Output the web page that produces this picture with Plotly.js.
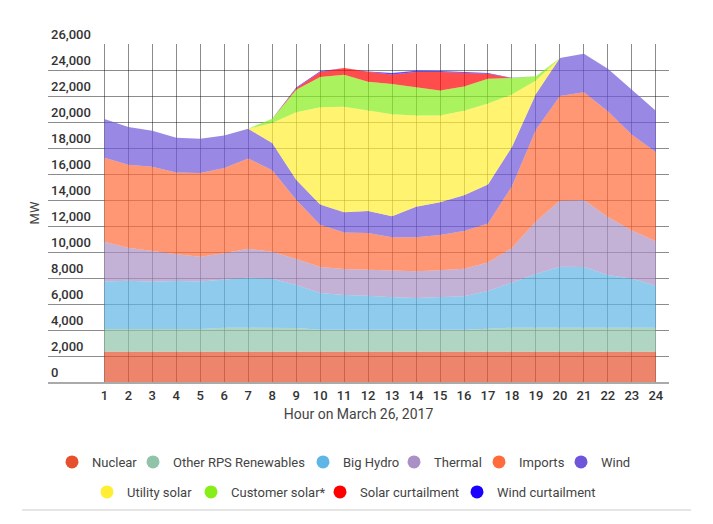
<!DOCTYPE html>
<html>
<head>
<meta charset="utf-8">
<script src="https://cdn.plot.ly/plotly-3.0.1.min.js"></script>
<style>
  html, body { margin: 0; padding: 0; background: #fff; }
  #chart { width: 713px; height: 524px; }
</style>
</head>
<body>
<div id="chart"></div>
<script>
// California supply by source, hourly, March 26, 2017 (MW)
const hours = [1, 2, 3, 4, 5, 6, 7, 8, 9, 10, 11, 12, 13, 14, 15, 16, 17, 18, 19, 20, 21, 22, 23, 24];

const nuclear          = [2330, 2330, 2330, 2330, 2330, 2330, 2330, 2330, 2330, 2330, 2330, 2330, 2330, 2330, 2330, 2330, 2330, 2330, 2330, 2330, 2330, 2330, 2330, 2330];
const otherRps         = [1750, 1750, 1750, 1750, 1750, 1850, 1850, 1850, 1820, 1690, 1690, 1690, 1690, 1690, 1690, 1690, 1770, 1850, 1850, 1850, 1850, 1850, 1850, 1850];
const bigHydro         = [3660, 3710, 3640, 3690, 3660, 3720, 3840, 3770, 3310, 2830, 2670, 2620, 2490, 2440, 2520, 2570, 2900, 3480, 4120, 4690, 4670, 4050, 3770, 3230];
const thermal          = [3050, 2540, 2360, 2050, 1900, 2000, 2230, 2070, 2000, 2000, 2000, 2000, 2030, 2050, 2050, 2130, 2200, 2640, 4050, 5080, 5150, 4460, 3710, 3410];
const imports          = [6460, 6390, 6480, 6300, 6440, 6560, 6950, 6260, 4560, 3250, 2810, 2820, 2600, 2630, 2710, 2900, 3000, 4750, 7050, 8050, 8280, 8130, 7360, 6870];
const wind             = [2980, 2900, 2770, 2670, 2640, 2510, 2280, 2100, 1540, 1560, 1550, 1700, 1610, 2340, 2520, 2750, 3000, 3020, 2750, 2920, 2970, 3280, 3460, 3180];
const utilitySolar     = [0, 0, 0, 0, 0, 0, 0, 1540, 5190, 7480, 8130, 7740, 7850, 7020, 6680, 6490, 6230, 4050, 1040, 0, 0, 0, 0, 0];
const customerSolar    = [0, 0, 0, 0, 0, 0, 0, 330, 1730, 2320, 2460, 2200, 2320, 2160, 1930, 1880, 1900, 1260, 320, 0, 0, 0, 0, 0];
const solarCurtailment = [0, 0, 0, 0, 0, 0, 0, 0, 120, 380, 510, 760, 730, 1190, 1420, 1060, 390, 0, 0, 0, 0, 0, 0, 0];
const windCurtailment  = [0, 0, 0, 0, 0, 0, 0, 0, 50, 60, 0, 20, 120, 100, 80, 70, 50, 20, 0, 0, 0, 0, 0, 0];

const seriesNames = ['Nuclear', 'Other RPS Renewables', 'Big Hydro', 'Thermal', 'Imports', 'Wind',
                     'Utility solar', 'Customer solar*', 'Solar curtailment', 'Wind curtailment'];
const seriesValues = [nuclear, otherRps, bigHydro, thermal, imports, wind,
                      utilitySolar, customerSolar, solarCurtailment, windCurtailment];
const seriesColors = ['#e5502d', '#8fc4aa', '#5fb5e5', '#a990c5', '#ff6b3b', '#6e55d9',
                      '#ffee33', '#88ee1a', '#ff0000', '#1a00ff'];

function withAlpha(hex, a) {
  const n = parseInt(hex.slice(1), 16);
  return 'rgba(' + ((n >> 16) & 255) + ',' + ((n >> 8) & 255) + ',' + (n & 255) + ',' + a + ')';
}

const FONT = 'Roboto, "Noto Sans", Arial, sans-serif';
const W = 713, H = 524;
const M = { l: 48, r: 44, t: 44, b: 142 };
const plotW = W - M.l - M.r;
const plotH = H - M.t - M.b;
const pxToPaperX = px => (px - M.l) / plotW;
const pxToPaperY = py => (H - M.b - py) / plotH;

const traces = [];

// stacked areas
seriesNames.forEach((name, i) => {
  traces.push({
    type: 'scatter',
    mode: 'lines',
    x: hours,
    y: seriesValues[i],
    name: name,
    stackgroup: 'supply',
    fillcolor: withAlpha(seriesColors[i], 0.7),
    line: { width: 0, color: seriesColors[i] },
    showlegend: false,
    hoverinfo: 'skip'
  });
});

// legend: one entry per legend box so the spacing stays tight, two rows
const legendIds = seriesNames.map((_, i) => i === 0 ? 'legend' : 'legend' + (i + 1));
const legendLeft = [52, 133, 303, 394, 479, 561, 87, 191, 320, 457];   // px, left edge of each entry
const legendRowY = [462, 462, 462, 462, 462, 462, 492, 492, 492, 492]; // px, row centre

seriesNames.forEach((name, i) => {
  traces.push({
    type: 'scatter',
    mode: 'markers',
    x: [null],
    y: [null],
    name: name,
    legend: legendIds[i],
    marker: { symbol: 'circle', size: 13, color: seriesColors[i] },
    showlegend: true,
    hoverinfo: 'skip'
  });
});

const layout = {
  width: W,
  height: H,
  margin: M,
  paper_bgcolor: '#fff',
  plot_bgcolor: '#fff',
  font: { family: FONT, color: '#444' },
  showlegend: true,
  xaxis: {
    range: [-1.35, 24.55],
    tickmode: 'array',
    tickvals: hours,
    ticktext: hours.map(String),
    tickfont: { family: FONT, size: 13, color: '#333', weight: 500 },
    ticks: '',
    showgrid: true,
    gridcolor: 'rgba(0,0,0,0.45)',
    gridwidth: 1,
    zeroline: false,
    showline: true,
    linecolor: '#aaa',
    linewidth: 2,
    title: { text: 'Hour on March 26, 2017', font: { family: FONT, size: 14, color: '#444' }, standoff: 8 },
    fixedrange: true
  },
  yaxis: {
    range: [0, 26000],
    tick0: 0,
    dtick: 2000,
    tickformat: ',d',
    ticklabelposition: 'inside top',
    ticklabeloverflow: 'allow',
    tickfont: { family: FONT, size: 13, color: '#333', weight: 500 },
    ticks: '',
    showgrid: true,
    gridcolor: 'rgba(0,0,0,0.45)',
    gridwidth: 1,
    zeroline: false,
    showline: false,
    title: { text: 'MW', font: { family: FONT, size: 13, color: '#444' }, standoff: 8 },
    fixedrange: true
  },
  shapes: [{
    type: 'line', xref: 'paper', yref: 'paper',
    x0: pxToPaperX(22), x1: pxToPaperX(691), y0: pxToPaperY(510), y1: pxToPaperY(510),
    line: { color: '#dcdcdc', width: 1.5 }
  }]
};

legendIds.forEach((id, i) => {
  layout[id] = {
    orientation: 'h',
    x: pxToPaperX(legendLeft[i]),
    xanchor: 'left',
    y: pxToPaperY(legendRowY[i]),
    yanchor: 'middle',
    font: { family: FONT, size: 13, color: '#444' },
    bgcolor: 'rgba(0,0,0,0)',
    borderwidth: 0,
    itemclick: false,
    itemdoubleclick: false
  };
});

Plotly.newPlot('chart', traces, layout, { staticPlot: true, displayModeBar: false });
</script>
</body>
</html>
